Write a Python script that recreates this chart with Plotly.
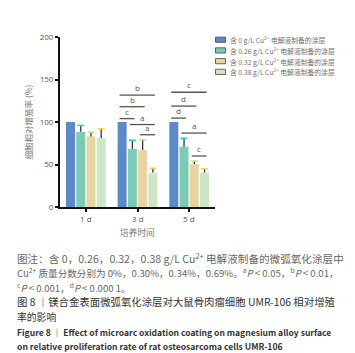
import plotly.graph_objects as go

categories = ["1 d", "3 d", "5 d"]
series_names = [
    "含 0 g/L Cu<sup>2+</sup> 电解液制备的涂层",
    "含 0.26 g/L Cu<sup>2+</sup> 电解液制备的涂层",
    "含 0.32 g/L Cu<sup>2+</sup> 电解液制备的涂层",
    "含 0.38 g/L Cu<sup>2+</sup> 电解液制备的涂层",
]
values = [
    [100, 100, 100],
    [88.4, 68.4, 71.0],
    [83.0, 67.0, 50.7],
    [81.0, 40.5, 40.5],
]
err_top = [
    [100, 100, 100],
    [96.0, 78.6, 81.0],
    [88.0, 79.0, 54.0],
    [92.0, 45.6, 45.0],
]
colors = ["#5b8ac6", "#7dcab5", "#e9d3a0", "#cde6c6"]
# significance brackets: (category index, bar i, bar j, y value, label)
brackets = [
    (1, 0, 3, 131.7, "b"),
    (1, 0, 2, 118.0, "b"),
    (1, 0, 1, 104.0, "c"),
    (1, 1, 3, 97.0, "a"),
    (1, 2, 3, 85.0, "a"),
    (2, 0, 3, 135.0, "c"),
    (2, 0, 2, 118.7, "d"),
    (2, 0, 1, 104.6, "d"),
    (2, 1, 3, 87.0, "a"),
    (2, 2, 3, 60.0, "c"),
]
y_ticks = [0, 50, 100, 150, 200]

W, H = 355, 353
L, R, T, B = 52, 207, 29.3, 199
BARGAP = 0.207
NB = 4
slot = (1 - BARGAP) / NB


def px_x(px):
    return (px - L) / (R - L)


def px_y(py):
    return (B - py) / (B - T)


fig = go.Figure()
for k in range(NB):
    fig.add_trace(go.Bar(
        x=list(range(len(categories))), y=values[k], name=series_names[k],
        marker=dict(color=colors[k], line=dict(width=0)),
        showlegend=False,
    ))

# upper-only error bars drawn as lines with caps
for k in range(NB):
    ex, ey, cx, cy = [], [], [], []
    for c in range(len(categories)):
        if err_top[k][c] > values[k][c]:
            pos = c + (k - 1.5) * slot
            ex += [pos, pos, None]
            ey += [values[k][c], err_top[k][c], None]
            cx.append(pos)
            cy.append(err_top[k][c])
    if ex:
        fig.add_trace(go.Scatter(x=ex, y=ey, mode="lines", line=dict(color="#333333", width=1.3),
                                 showlegend=False, hoverinfo="skip"))
        fig.add_trace(go.Scatter(x=cx, y=cy, mode="markers",
                                 marker=dict(symbol="line-ew-open", size=5,
                                             line=dict(color="#333333", width=1.5)),
                                 showlegend=False, hoverinfo="skip"))

shapes = []
annotations = []
for (c, i, j, yv, lab) in brackets:
    xi = c + (i - 1.5) * slot - 0.05
    xj = c + (j - 1.5) * slot + 0.04
    shapes.append(dict(type="line", xref="x", yref="y", x0=xi, x1=xj, y0=yv, y1=yv,
                       line=dict(color="#555555", width=1.3)))
    annotations.append(dict(x=(xi + xj) / 2, y=yv, xref="x", yref="y", text=lab,
                            showarrow=False, yanchor="bottom", yshift=0,
                            font=dict(size=8, color="#555555", family="Open Sans")))

# x tick labels and title
for c, lab in enumerate(categories):
    annotations.append(dict(x=c, y=px_y(210), xref="x", yref="paper", text=lab,
                            showarrow=False, yanchor="middle",
                            font=dict(size=8, color="#555555", family="Open Sans")))
annotations.append(dict(x=0.5, y=px_y(224), xref="paper", yref="paper", text="培养时间",
                        showarrow=False, yanchor="middle",
                        font=dict(size=8.7, color="#777777", family="Noto Sans CJK SC")))

# custom legend
for k, name in enumerate(series_names):
    cyy = 32 + k * 10.7
    shapes.append(dict(type="rect", xref="paper", yref="paper",
                       x0=px_x(207.5), x1=px_x(217.5), y0=px_y(cyy - 2.6), y1=px_y(cyy + 2.6),
                       fillcolor=colors[k], line=dict(color="#444444", width=0.8)))
    annotations.append(dict(x=px_x(220), y=px_y(cyy), xref="paper", yref="paper", text=name,
                            showarrow=False, xanchor="left", yanchor="middle",
                            font=dict(size=6.8, color="#707070", family="Noto Sans CJK SC")))

cap_font = "Noto Sans CJK SC"
caption = [
    (250, "图注：含 0，0.26，0.32，0.38 g/L Cu<sup>2+</sup> 电解液制备的微弧氧化涂层中", "#666666", 10.6),
    (264.3, "Cu<sup>2+</sup> 质量分数分别为 0%，0.30%，0.34%，0.69%。<sup>a</sup><i>P</i> < 0.05，<sup>b</sup><i>P</i> < 0.01，", "#666666", 9.6),
    (279.3, "<sup>c</sup><i>P</i> < 0.001，<sup>d</sup><i>P</i> < 0.000 1。", "#666666", 9.6),
    (293.5, "图 8 ｜镁合金表面微弧氧化涂层对大鼠骨肉瘤细胞 UMR-106 相对增殖", "#333333", 10.4),
    (308.5, "率的影响", "#333333", 9.8),
    (324, "<b>Figure 8 ｜ Effect of microarc oxidation coating on magnesium alloy surface</b>", "#333333", 8.55),
    (338, "<b>on relative proliferation rate of rat osteosarcoma cells UMR-106</b>", "#333333", 8.6),
]
for (py, txt, col, fs) in caption:
    annotations.append(dict(x=px_x(7), y=px_y(py), xref="paper", yref="paper", text=txt,
                            showarrow=False, xanchor="left", yanchor="middle",
                            font=dict(size=fs, color=col, family=cap_font)))

fig.update_layout(
    width=W, height=H,
    margin=dict(l=L, r=W - R, t=T, b=H - B),
    paper_bgcolor="white", plot_bgcolor="white",
    barmode="group", bargap=BARGAP, bargroupgap=0.12,
    shapes=shapes, annotations=annotations,
    xaxis=dict(tickmode="array", tickvals=list(range(len(categories))), showticklabels=False,
               range=[-0.5, len(categories) - 0.5], showline=True, linecolor="#111111", linewidth=2,
               ticks="outside", ticklen=3, tickwidth=1.5, tickcolor="#111111",
               showgrid=False, zeroline=False),
    yaxis=dict(range=[0, 200], tickvals=y_ticks, showline=True, linecolor="#111111", linewidth=2,
               ticks="outside", ticklen=3, tickwidth=1.5, tickcolor="#111111",
               tickfont=dict(size=8, color="#555555", family="Open Sans"),
               showgrid=False, zeroline=False,
               title=dict(text="细胞相对增殖率 (%)", font=dict(size=8.5, color="#777777", family="Noto Sans CJK SC"),
                          standoff=6)),
)

fig.write_html("out.html")
